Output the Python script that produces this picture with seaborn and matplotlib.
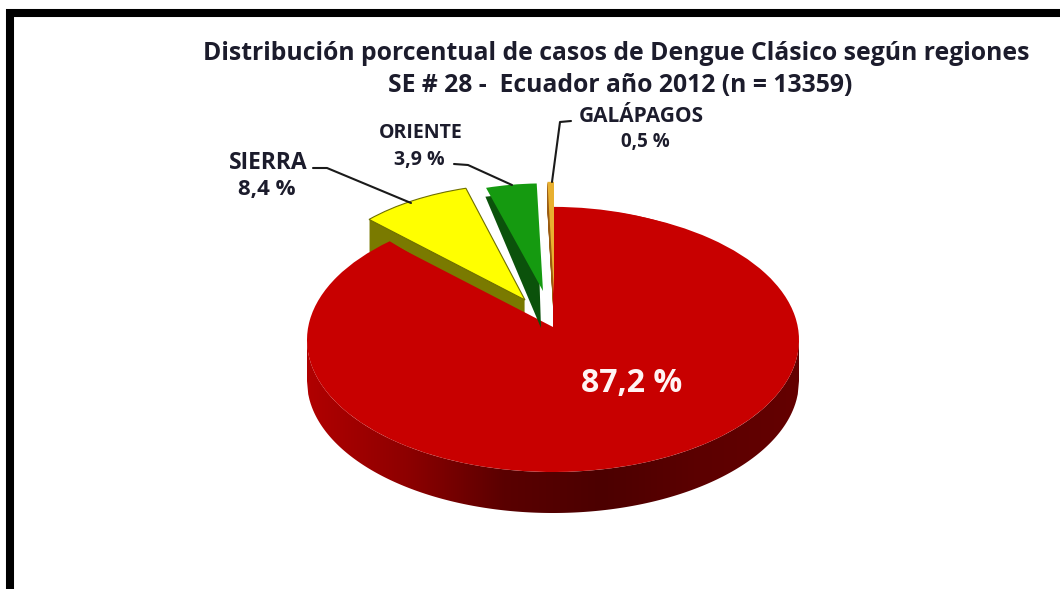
import numpy as np
import matplotlib
matplotlib.use("Agg")
import matplotlib.pyplot as plt
from matplotlib.colors import LinearSegmentedColormap
from matplotlib.patches import Rectangle
import seaborn as sns

regions = ["", "SIERRA", "ORIENTE", "GALÁPAGOS"]
shares = [87.2, 8.4, 3.9, 0.5]
share_labels = ["87,2 %", "8,4 %", "3,9 %", "0,5 %"]

sns.set_theme(style="white")
plt.rcParams["font.family"] = ["Open Sans", "DejaVu Sans"]

face_colors = ["#c80000", "#ffff00", "#159a10", "#e8b030"]
side_colors = ["#8a0000", "#7a7a00", "#0b520b", "#9a5a10"]

# pie geometry, in pixels of the 1060x589 picture
CX, CY, RX, RY = 553, 340, 246, 132
DEPTH = 41
apex = [(553, 340), (525, 300), (543, 291), (554, 294)]
radius = [1.0, 0.88, 0.815, 0.85]
side_depth = [0, 32, 0, 30]
INK = "#1c1c2c"


def px(x, y):
    return (x - CX) / RX, (CY - y) / RY


fig = plt.figure(figsize=(10.6, 5.89), dpi=100)
ax = fig.add_axes([0, 0, 1, 1])


def draw_pie(colors, index, shift=0, zorder=2, edge="none"):
    wedges, _ = ax.pie(shares, colors=colors, startangle=90, counterclock=False)
    for i, w in enumerate(wedges):
        if i != index:
            w.remove()
            continue
        w.set_center(px(apex[i][0], apex[i][1] + shift))
        w.set_radius(radius[i])
        w.set_zorder(zorder)
        w.set_edgecolor(edge)
        w.set_linewidth(0.8)
    return wedges[index]


# cut faces of the pulled out slices
for s in range(side_depth[1]):
    draw_pie(side_colors, 1, shift=s + 1, zorder=2)
for s in range(side_depth[3]):
    draw_pie(side_colors, 3, shift=s + 1, zorder=3)

# rim of the big slice, shaded left to right
xs = np.linspace(-1, 1, 400)
low = -np.sqrt(1 - xs ** 2)
rim = ax.fill_between(xs, low, low - DEPTH / RY, color="none", zorder=2)
rim_cmap = LinearSegmentedColormap.from_list(
    "rim", ["#b00000", "#8e0000", "#5a0000", "#4c0000", "#5c0000", "#640000"])
grad = ax.imshow(np.linspace(0, 1, 256)[None, :], cmap=rim_cmap, aspect="auto",
                 extent=(-1, 1, -1.4, 0), zorder=2)
grad.set_clip_path(rim.get_paths()[0], transform=ax.transData)

main = draw_pie(face_colors, 0, zorder=4)
main.set_theta1(main.theta1 - 4.5)
# perspective pushes the tip of the big slice up the picture
tip = draw_pie(face_colors, 0, zorder=4)
tip.set_center(px(553, 327))
tip.set_radius(0.91)

# green cut face narrows toward the outer edge
dark = draw_pie(side_colors, 2, zorder=5)
dark.set_center(px(541, 328))
dark.set_radius(1.02)
dark.set_theta1(91)
dark.set_theta2(102.8)

draw_pie(face_colors, 1, zorder=6, edge="#6f6f00")
green = draw_pie(face_colors, 2, zorder=6)
green.set_theta2(106.5)
draw_pie(face_colors, 3, zorder=6)

ax.set_aspect("auto")
ax.set_xlim(px(0, 0)[0], px(1060, 0)[0])
ax.set_ylim(px(0, 589)[1], px(0, 0)[1])
ax.axis("off")

# frame runs off the right and bottom of the picture
x0, y0 = px(10, 13)
x1, y1 = px(1080, 640)
ax.add_patch(Rectangle((x0, y1), x1 - x0, y0 - y1, fill=False, edgecolor="black",
                       linewidth=5.8, zorder=1, clip_on=False))


def label(x, y, txt, size, color=INK):
    tx, ty = px(x, y)
    ax.text(tx, ty, txt, ha="center", va="center", fontsize=size, fontweight="bold",
            color=color, zorder=8)


def leader(points):
    pts = [px(*p) for p in points]
    ax.plot([p[0] for p in pts], [p[1] for p in pts], color="#1a1a1a", lw=1.5, zorder=8)


label(616, 53, "Distribución porcentual de casos de Dengue Clásico según regiones", 17.8)
label(620, 85, "SE # 28 -  Ecuador año 2012 (n = 13359)", 17.8)

label(268, 163, regions[1], 16.5)
label(267, 190, share_labels[1], 16)
label(421, 133, regions[2], 14)
label(419, 160, share_labels[2], 14)
label(641, 117, regions[3], 15)
label(645, 142, share_labels[3], 13.5)
label(632, 384, share_labels[0], 23, color="#fff4f4")

leader([(313, 168), (327, 168), (411, 203)])
leader([(454, 164), (468, 165), (512, 185)])
leader([(571, 121), (560, 122), (552, 182)])

fig.savefig("out.png", dpi=100, facecolor="white")
